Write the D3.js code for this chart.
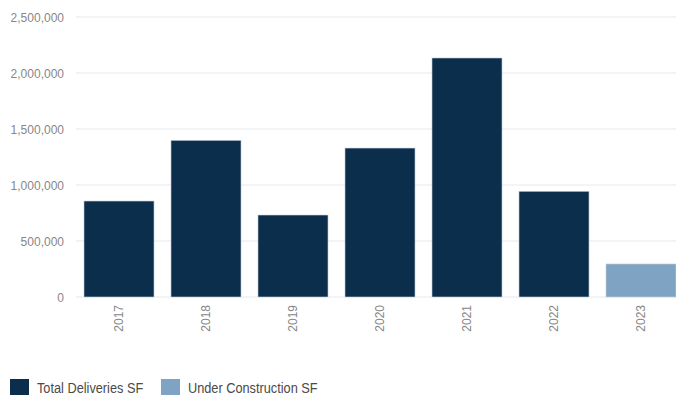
<!DOCTYPE html>
<html>
<head>
<meta charset="utf-8">
<script src="https://cdn.jsdelivr.net/npm/d3@7"></script>
<style>
  html, body { margin: 0; padding: 0; background: #fff; }
  svg { display: block; }
  .tick text { font-family: "Liberation Sans", Arial, sans-serif; fill: #878787; }
  .legend text { font-family: "Liberation Sans", Arial, sans-serif; fill: #4a4a4a; }
</style>
</head>
<body>
<svg id="chart" width="676" height="395"></svg>
<script>
// Annual industrial deliveries (square feet)
const years = ["2017", "2018", "2019", "2020", "2021", "2022", "2023"];
const deliveries = [857000, 1399000, 732000, 1330000, 2134000, 944000, null];
const underConstruction = [null, null, null, null, null, null, 295000];
const yTicks = [0, 500000, 1000000, 1500000, 2000000, 2500000];
const legendLabels = ["Total Deliveries SF", "Under Construction SF"];
const colors = ["#0b2e4d", "#7fa3c3"];

const svg = d3.select("#chart");
const W = 676, H = 395;
const margin = { top: 17, bottom: 98, left: 75.5 };

const x = d3.scaleBand()
  .domain(years)
  .range([margin.left, margin.left + 87 * years.length])
  .paddingInner(0.195)
  .paddingOuter(0.0975);

const y = d3.scaleLinear()
  .domain([0, 2500000])
  .range([H - margin.bottom, margin.top]);

// Horizontal gridlines
svg.append("g")
  .selectAll("line")
  .data(yTicks)
  .join("line")
  .attr("x1", 76)
  .attr("x2", W)
  .attr("y1", d => y(d))
  .attr("y2", d => y(d))
  .attr("stroke", "#e6e8ea")
  .attr("stroke-width", 1);

// Y axis labels
const yAxis = svg.append("g")
  .attr("transform", "translate(64,0)")
  .call(d3.axisLeft(y).tickValues(yTicks).tickFormat(d3.format(",")).tickSize(0).tickPadding(0));
yAxis.select(".domain").remove();
yAxis.selectAll("text").attr("font-size", 12).attr("dy", "0.34em");

// Bars
const rows = years.map((yr, i) => ({ year: yr, values: [deliveries[i], underConstruction[i]] }));
const bars = [];
rows.forEach(r => r.values.forEach((v, k) => { if (v != null) bars.push({ year: r.year, value: v, series: k }); }));

svg.append("g")
  .selectAll("rect")
  .data(bars)
  .join("rect")
  .attr("x", d => x(d.year))
  .attr("width", x.bandwidth())
  .attr("y", d => y(d.value))
  .attr("height", d => y(0) - y(d.value))
  .attr("fill", d => colors[d.series])
  .attr("stroke", "#c9d3dc")
  .attr("stroke-width", 0.6);

// X axis labels, rotated
const xAxis = svg.append("g")
  .attr("transform", `translate(0,${y(0)})`)
  .call(d3.axisBottom(x).tickSize(0).tickPadding(0));
xAxis.select(".domain").remove();
xAxis.selectAll("text")
  .attr("font-size", 12)
  .attr("text-anchor", "end")
  .attr("transform", "rotate(-90)")
  .attr("x", -8)
  .attr("y", 0)
  .attr("dy", "0.35em");

// Legend (condensed labels)
const legend = svg.append("g").attr("class", "legend");
const legendX = [10, 161];
legendLabels.forEach((label, i) => {
  legend.append("rect")
    .attr("x", legendX[i])
    .attr("y", 379)
    .attr("width", 19)
    .attr("height", 19)
    .attr("fill", colors[i]);
  legend.append("text")
    .attr("transform", `translate(${legendX[i] + 27},393) scale(0.85,1)`)
    .attr("font-size", 15)
    .text(label);
});
</script>
</body>
</html>
